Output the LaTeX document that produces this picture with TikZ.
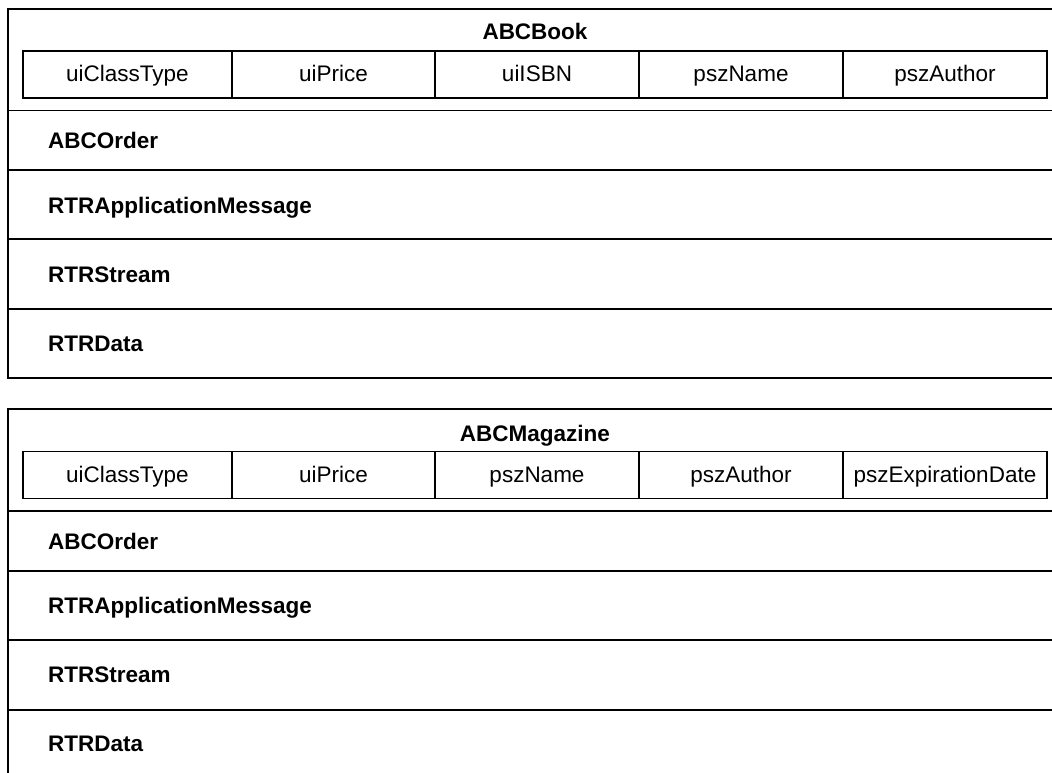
\documentclass[tikz,border=0pt]{standalone}
\usepackage{fontspec}
\setmainfont{Liberation Sans}
\begin{document}
\begin{tikzpicture}[x=1pt,y=-1pt,
  frame/.style={line width=2.8pt},
  sep/.style={line width=1.3pt},
  cell/.style={draw, line width=1.3pt, inner sep=0pt, minimum height=47pt,
    text height=19pt, text depth=4pt,
    font=\fontsize{22.5}{26}\selectfont},
  title/.style={anchor=base, inner sep=0pt, font=\fontsize{22.5}{26}\selectfont\bfseries},
  rowlabel/.style={anchor=base west, inner sep=0pt, font=\fontsize{22.5}{26}\selectfont\bfseries}]
\useasboundingbox (0,0) rectangle (1052,773);
\clip (0,0) rectangle (1052,773);

% ---------- ABCBook ----------
\draw[frame] (8,9) rectangle (1120,378);
\node[title] (booktitle) at (535,40) {ABCBook};
\node[cell, minimum width=209pt] (bookc1) at (127.5,74.5) {uiClassType};
\node[cell, minimum width=203pt] (bookc2) at (333.5,74.5) {uiPrice};
\node[cell, minimum width=204pt] (bookc3) at (537,74.5) {uiISBN};
\node[cell, minimum width=204pt] (bookc4) at (741,74.5) {pszName};
\node[cell, minimum width=204pt] (bookc5) at (945,74.5) {pszAuthor};
\draw[sep] (8,110.5) -- (1120,110.5);
\node[rowlabel] (bookr1) at (48,149) {ABCOrder};
\draw[sep] (8,170) -- (1120,170);
\node[rowlabel] (bookr2) at (48,213) {RTRApplicationMessage};
\draw[sep] (8,239) -- (1120,239);
\node[rowlabel] (bookr3) at (48,282) {RTRStream};
\draw[sep] (8,309) -- (1120,309);
\node[rowlabel] (bookr4) at (48,351) {RTRData};

% ---------- ABCMagazine ----------
\draw[frame] (8,409) rectangle (1120,830);
\node[title] (magtitle) at (535,441) {ABCMagazine};
\node[cell, minimum width=209pt] (magc1) at (127.5,475) {uiClassType};
\node[cell, minimum width=203pt] (magc2) at (333.5,475) {uiPrice};
\node[cell, minimum width=204pt] (magc3) at (537,475) {pszName};
\node[cell, minimum width=204pt] (magc4) at (741,475) {pszAuthor};
\node[cell, minimum width=204pt] (magc5) at (945,475) {pszExpirationDate};
\draw[sep] (8,511) -- (1120,511);
\node[rowlabel] (magr1) at (48,549) {ABCOrder};
\draw[sep] (8,571) -- (1120,571);
\node[rowlabel] (magr2) at (48,613) {RTRApplicationMessage};
\draw[sep] (8,640) -- (1120,640);
\node[rowlabel] (magr3) at (48,682) {RTRStream};
\draw[sep] (8,710) -- (1120,710);
\node[rowlabel] (magr4) at (48,751) {RTRData};
\end{tikzpicture}
\end{document}
